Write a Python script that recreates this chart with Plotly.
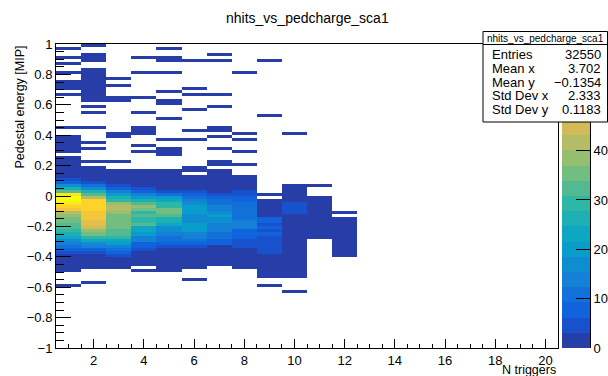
import numpy as np
import plotly.graph_objects as go

# ---------------------------------------------------------------------------
# Histogram binning: N triggers (20 bins of width 1), pedestal energy (100 bins
# of width 0.02 MIP between -1 and 1)
# ---------------------------------------------------------------------------
X_LO, X_HI, NX = 0.5, 20.5, 20
Y_LO, Y_HI, NY = -1.0, 1.0, 100
BIN_W = 0.02

# Per N-trigger column: lower edge of the first (top-most) bin of the
# contiguous block, the bin contents from there downward, and the lower
# edges of isolated single-entry bins.
col01_top = 0.24
col01 = [3, 4, 5, 7, 10, 15, 22, 46, 90, 170, 250, 320, 560, 605, 616, 570,
         530, 510, 420, 390, 360, 350, 330, 320, 290, 265, 230, 180, 140, 100,
         70, 40, 25, 18, 12, 8, 5, 2]
col01_single = [0.96, 0.90, 0.86, 0.80, 0.74, 0.72, 0.70, 0.66, 0.44, 0.38,
                0.36, 0.34, 0.32, 0.30, 0.28, -0.60]

col02_top = 0.18
col02 = [3, 5, 9, 15, 25, 50, 110, 175, 260, 330, 420, 540, 550, 545, 535,
         515, 505, 500, 490, 480, 440, 390, 350, 290, 240, 180, 130, 80, 45,
         25, 15, 9, 5, 2]
col02_single = [0.98, 0.92, 0.90, 0.88, 0.82, 0.80, 0.78, 0.76, 0.74, 0.72,
                0.70, 0.68, 0.66, 0.64, 0.62, 0.58, 0.54, 0.44, 0.34, 0.30,
                0.22, -0.58]

col03_top = 0.16
col03 = [3, 5, 8, 14, 25, 50, 85, 140, 210, 260, 300, 390, 420, 415, 380, 365,
         360, 355, 350, 345, 330, 320, 290, 240, 205, 150, 110, 75, 45, 25, 14,
         7, 3]
col03_single = [0.76, 0.72, 0.64, 0.62, 0.40, 0.38, 0.22]

col04_top = 0.16
col04 = [2, 4, 7, 12, 20, 30, 50, 85, 140, 200, 260, 330, 380, 350, 300, 325,
         295, 290, 320, 240, 230, 200, 145, 135, 85, 75, 45, 28, 18, 10, 6, 3]
col04_single = [0.90, 0.80, 0.64, 0.54, 0.44, 0.42, 0.40, 0.32, 0.28, -0.50]

col05_top = 0.16
col05 = [2, 3, 5, 8, 12, 18, 28, 50, 100, 200, 230, 290, 295, 350, 345, 320,
         270, 265, 240, 180, 170, 150, 110, 100, 75, 50, 30, 20, 13, 8, 5, 3,
         2, 1]
col05_single = [0.96, 0.90, 0.88, 0.80, 0.68, 0.62, 0.60, 0.50, 0.36, 0.30,
                0.28, 0.26]

col06_top = 0.12
col06 = [2, 4, 7, 12, 20, 55, 80, 100, 140, 170, 200, 210, 185, 160, 170, 175,
         200, 205, 195, 150, 130, 110, 80, 60, 30, 20, 12, 7, 4, 2, 1]
col06_single = [0.88, 0.70, 0.66, 0.56, 0.42, 0.36, 0.18, 0.16, -0.56]

col07_top = 0.16
col07 = [2, 3, 5, 7, 10, 14, 20, 28, 50, 75, 100, 105, 130, 140, 160, 200,
         170, 165, 145, 140, 130, 110, 100, 90, 70, 28, 18, 11, 6, 3, 2, 1]
col07_single = [0.92, 0.88, 0.66, 0.58, 0.44, 0.42, 0.38, 0.30, 0.22, 0.20]

col08_top = 0.12
col08 = [2, 3, 5, 8, 12, 40, 55, 70, 80, 95, 100, 105, 100, 100, 105, 130,
         135, 125, 80, 75, 70, 60, 45, 35, 25, 16, 10, 6, 4, 2, 1]
col08_single = [0.80, 0.40, 0.36, 0.28, 0.20]

col09_top = -0.04
col09 = [2, 4, 6, 8, 12, 18, 70, 75, 55, 80, 60, 75, 55, 55, 50, 50, 45, 45,
         28, 20, 12, 8, 5, 3, 2, 1]
col09_single = [0.88, 0.52, 0.00, -0.60]

col10_top = 0.06
col10 = [1, 2, 2, 3, 4, 6, 35, 45, 48, 40, 22, 20, 18, 17, 16, 15, 14, 12, 11,
         10, 9, 8, 6, 5, 4, 3, 2, 2, 1, 1, 1]
col10_single = [0.40, -0.64]

col11_top = -0.02
col11 = [1, 2, 3, 4, 5, 5, 5, 4, 4, 3, 3, 2, 2, 1]
col11_single = [0.06]

col12_top = -0.16
col12 = [1, 2, 2, 3, 3, 3, 3, 2, 2, 2, 1, 1, 1]
col12_single = [-0.12]

columns = [
    (1, col01_top, col01, col01_single),
    (2, col02_top, col02, col02_single),
    (3, col03_top, col03, col03_single),
    (4, col04_top, col04, col04_single),
    (5, col05_top, col05, col05_single),
    (6, col06_top, col06, col06_single),
    (7, col07_top, col07, col07_single),
    (8, col08_top, col08, col08_single),
    (9, col09_top, col09, col09_single),
    (10, col10_top, col10, col10_single),
    (11, col11_top, col11, col11_single),
    (12, col12_top, col12, col12_single),
]

# Palette axis labels left visible below the statistics box
palette_ticks = [0, 100, 200, 300, 400]

# Statistics box text
stats_title = "nhits_vs_pedcharge_sca1"
stats_labels = ["Entries", "Mean x", "Mean y", "Std Dev x", "Std Dev y"]
stats_values = ["32550", "3.702", "\u22120.1354", "2.333", "0.1183"]

# ---------------------------------------------------------------------------
# Fill the 2D histogram
# ---------------------------------------------------------------------------
counts = np.zeros((NY, NX))


def row_of(edge):
    return int(round((edge - Y_LO) / BIN_W))


for n, top, block, singles in columns:
    for i, c in enumerate(block):
        counts[row_of(top - i * BIN_W), n - 1] = c
    for e in singles:
        counts[row_of(e), n - 1] += 1

ZMAX = counts.max()
x_edges = np.linspace(X_LO, X_HI, NX + 1)
y_edges = np.linspace(Y_LO, Y_HI, NY + 1)
z_plot = [[(v if v > 0 else None) for v in row] for row in counts.tolist()]

# ---------------------------------------------------------------------------
# ROOT "bird" palette, 20 contour levels
# ---------------------------------------------------------------------------
stops = [0.0, 0.125, 0.25, 0.375, 0.5, 0.625, 0.75, 0.875, 1.0]
red = [0.2082, 0.0592, 0.0780, 0.0232, 0.1802, 0.5301, 0.8186, 0.9956, 0.9764]
green = [0.1664, 0.3599, 0.5041, 0.6419, 0.7178, 0.7492, 0.7328, 0.7862, 0.9832]
blue = [0.5293, 0.8684, 0.8385, 0.7914, 0.6425, 0.4662, 0.3499, 0.1968, 0.0539]
NCOL, NLEV = 255, 20

band_colors = []
for k in range(NLEV):
    idx = min(int((k + 0.99) * NCOL / NLEV), NCOL - 1)
    f = idx / (NCOL - 1)
    r, g, b = (np.interp(f, stops, ch) for ch in (red, green, blue))
    band_colors.append("rgb(%d,%d,%d)" % (round(r * 255), round(g * 255), round(b * 255)))

colorscale = []
for k, col in enumerate(band_colors):
    colorscale.append([k / NLEV, col])
    colorscale.append([(k + 1) / NLEV, col])

bar_edges = np.linspace(0, ZMAX, NLEV + 1)
bar_z = [[(k + 0.5) * ZMAX / NLEV] for k in range(NLEV)]

# ---------------------------------------------------------------------------
# Figure
# ---------------------------------------------------------------------------
W, H = 608, 376
FONT = "Liberation Sans, Arial, Helvetica, sans-serif"


def px(x):
    return x / W


def py(y):
    return 1 - y / H


FRAME_L, FRAME_R, FRAME_T, FRAME_B = 56, 558, 44, 348

fig = go.Figure()
fig.add_trace(go.Heatmap(
    x=x_edges, y=y_edges, z=z_plot, colorscale=colorscale,
    zmin=0, zmax=ZMAX, showscale=False, hoverongaps=False,
    xaxis="x", yaxis="y"))
fig.add_trace(go.Heatmap(
    x=[0, 1], y=bar_edges, z=bar_z, colorscale=colorscale,
    zmin=0, zmax=ZMAX, showscale=False, xaxis="x2", yaxis="y2"))

tickfont = dict(family=FONT, size=13, color="black")

fig.update_layout(
    template="none",
    width=W, height=H,
    margin=dict(l=0, r=0, t=0, b=0, pad=0, autoexpand=False),
    paper_bgcolor="white", plot_bgcolor="white",
    showlegend=False,
    font=dict(family=FONT, color="black"),
    xaxis=dict(
        domain=[px(FRAME_L), px(FRAME_R)], range=[X_LO, X_HI], anchor="y",
        automargin=False,
        tick0=0, dtick=2, ticks="inside", ticklen=9, tickwidth=1,
        tickcolor="black", showline=True, linecolor="black", linewidth=1,
        mirror=True, showgrid=False, zeroline=False, tickfont=tickfont,
        minor=dict(ticks="inside", ticklen=4.5, tickwidth=1,
                   tickcolor="black", tick0=0, dtick=0.5, showgrid=False),
    ),
    yaxis=dict(
        domain=[py(FRAME_B), py(FRAME_T)], range=[Y_LO, Y_HI], anchor="x",
        automargin=False,
        tick0=0, dtick=0.2, ticks="inside", ticklen=15, tickwidth=1,
        tickcolor="black", showline=True, linecolor="black", linewidth=1,
        mirror=True, showgrid=False, zeroline=False, tickfont=tickfont,
        minor=dict(ticks="inside", ticklen=7.5, tickwidth=1,
                   tickcolor="black", tick0=0, dtick=0.05, showgrid=False),
    ),
    xaxis2=dict(domain=[px(562), px(590)], range=[0, 1], anchor="y2",
                automargin=False, visible=False),
    yaxis2=dict(
        domain=[py(FRAME_B), py(FRAME_T)], range=[0, ZMAX], anchor="x2",
        automargin=False,
        side="right", tickmode="array", tickvals=palette_ticks,
        ticks="inside", ticklen=14, tickwidth=1, tickcolor="black",
        showline=True, linecolor="black", linewidth=1, showgrid=False,
        zeroline=False, tickfont=tickfont,
    ),
)

# Statistics box
BOX_L, BOX_R, BOX_T, BOX_B = 483, 607.5, 31.5, 122
fig.add_shape(type="rect", xref="paper", yref="paper",
              x0=px(BOX_L), x1=px(BOX_R), y0=py(BOX_B), y1=py(BOX_T),
              line=dict(color="black", width=1), fillcolor="white",
              layer="above")
fig.add_shape(type="line", xref="paper", yref="paper",
              x0=px(BOX_L), x1=px(BOX_R), y0=py(44.5), y1=py(44.5),
              line=dict(color="black", width=1), layer="above")

annotations = [
    dict(text="nhits_vs_pedcharge_sca1", x=px(307.5), y=py(18),
         xanchor="center", yanchor="middle",
         font=dict(family=FONT, size=14, color="black")),
    dict(text="N triggers", x=px(558), y=py(370), xanchor="right",
         yanchor="middle", font=dict(family=FONT, size=12.5, color="black")),
    dict(text="Pedestal energy [MIP]", x=px(19), y=py(44), xanchor="center",
         yanchor="top", textangle=-90,
         font=dict(family=FONT, size=12.5, color="black")),
    dict(text=stats_title, x=px(545), y=py(38), xanchor="center",
         yanchor="middle", font=dict(family=FONT, size=10, color="black")),
]
row_y = [54.5, 68.3, 82.1, 95.9, 109.7]
for lab, val, yy in zip(stats_labels, stats_values, row_y):
    annotations.append(dict(text=lab, x=px(490), y=py(yy), xanchor="left",
                            yanchor="middle",
                            font=dict(family=FONT, size=13, color="black")))
    annotations.append(dict(text=val, x=px(603), y=py(yy), xanchor="right",
                            yanchor="middle",
                            font=dict(family=FONT, size=13, color="black")))

for a in annotations:
    a.update(xref="paper", yref="paper", showarrow=False)
fig.update_layout(annotations=annotations)

fig.write_html("out.html")
